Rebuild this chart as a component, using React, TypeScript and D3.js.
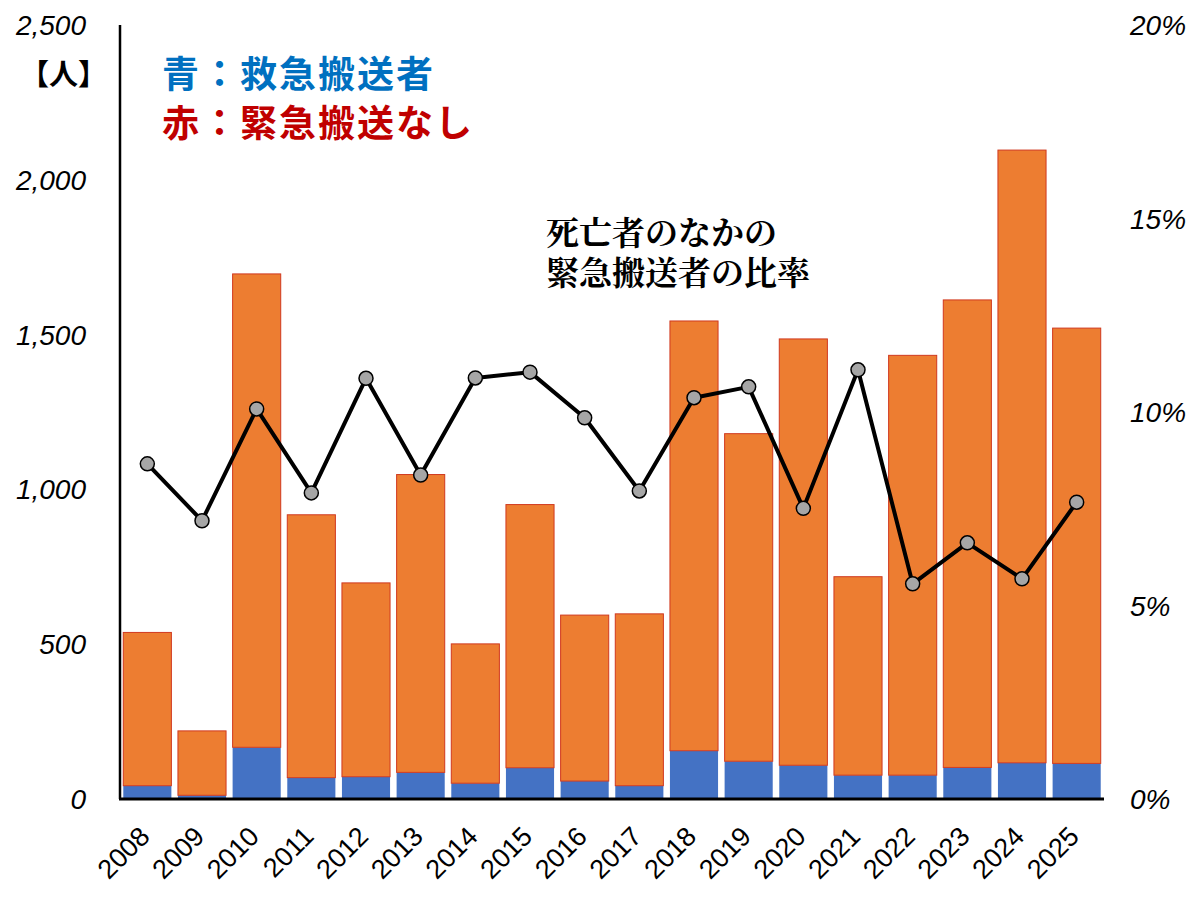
import { useEffect, useRef } from "react";
import * as d3 from "d3";

const years = [
  "2008", "2009", "2010", "2011", "2012", "2013", "2014", "2015", "2016",
  "2017", "2018", "2019", "2020", "2021", "2022", "2023", "2024", "2025",
];
// 救急搬送者 (blue)
const transported = [
  43, 12, 167, 69, 72, 86, 51, 101, 58, 43, 156, 122, 109, 77, 77, 102, 117, 115,
];
// 緊急搬送なし (orange)
const notTransported = [
  495, 208, 1529, 849, 626, 962, 450, 850, 536, 555, 1388, 1058, 1377, 641,
  1356, 1510, 1979, 1406,
];
// 死亡者のなかの緊急搬送者の比率 (%)
const ratio = [
  8.66, 7.19, 10.08, 7.91, 10.87, 8.37, 10.88, 11.03, 9.85, 7.96, 10.37, 10.65,
  7.51, 11.09, 5.56, 6.62, 5.69, 7.67,
];
const leftTicks = [0, 500, 1000, 1500, 2000, 2500];
const rightTicks = [0, 5, 10, 15, 20];

interface Row {
  year: string;
  transported: number;
  notTransported: number;
}

export default function App() {
  const ref = useRef<SVGSVGElement | null>(null);

  useEffect(() => {
    const svg = d3.select(ref.current);
    svg.selectAll("*").remove();

    const width = 1200;
    const height = 900;
    const left = 120;
    const right = 1104;
    const top = 25;
    const bottom = 799;

    const rows: Row[] = years.map((year, i) => ({
      year,
      transported: transported[i],
      notTransported: notTransported[i],
    }));

    const x = d3
      .scaleBand()
      .domain(years)
      .range([left, right])
      .paddingInner(0.12)
      .paddingOuter(0.06);
    const y = d3.scaleLinear().domain([0, 2500]).range([bottom, top]);
    const yRight = d3.scaleLinear().domain([0, 20]).range([bottom, top]);

    svg.attr("width", width).attr("height", height);

    const stack = d3
      .stack<Row>()
      .keys(["transported", "notTransported"]);
    const series = stack(rows);
    const fills = ["#4472C4", "#ED7D31"];

    series.forEach((s, si) => {
      svg
        .append("g")
        .selectAll("rect")
        .data(s)
        .enter()
        .append("rect")
        .attr("x", (d) => x(d.data.year)!)
        .attr("width", x.bandwidth())
        .attr("y", (d) => y(d[1]))
        .attr("height", (d) => y(d[0]) - y(d[1]))
        .attr("fill", fills[si])
        .attr("stroke", si === 1 ? "#D0391F" : "none")
        .attr("stroke-width", 1);
    });

    // axes lines
    svg
      .append("line")
      .attr("x1", left)
      .attr("x2", left)
      .attr("y1", top)
      .attr("y2", bottom)
      .attr("stroke", "#000")
      .attr("stroke-width", 2.5);
    svg
      .append("line")
      .attr("x1", left - 1)
      .attr("x2", right)
      .attr("y1", bottom)
      .attr("y2", bottom)
      .attr("stroke", "#000")
      .attr("stroke-width", 3);

    const tickFont = "'Liberation Sans', Arial, sans-serif";

    svg
      .append("g")
      .selectAll("text")
      .data(leftTicks)
      .enter()
      .append("text")
      .attr("x", 86)
      .attr("y", (d) => y(d))
      .attr("dy", "0.36em")
      .attr("text-anchor", "end")
      .attr("font-family", tickFont)
      .attr("font-style", "italic")
      .attr("font-size", 28)
      .text((d) => d3.format(",")(d));

    svg
      .append("g")
      .selectAll("text")
      .data(rightTicks)
      .enter()
      .append("text")
      .attr("x", 1130)
      .attr("y", (d) => yRight(d))
      .attr("dy", "0.36em")
      .attr("text-anchor", "start")
      .attr("font-family", tickFont)
      .attr("font-style", "italic")
      .attr("font-size", 28)
      .text((d) => `${d}%`);

    svg
      .append("g")
      .selectAll("text")
      .data(years)
      .enter()
      .append("text")
      .attr("transform", (d) => {
        const cx = x(d)! + x.bandwidth() / 2 + 4;
        return `translate(${cx},838) rotate(-45)`;
      })
      .attr("text-anchor", "end")
      .attr("font-family", tickFont)
      .attr("font-size", 27)
      .text((d) => d);

    // ratio line
    const line = d3
      .line<number>()
      .x((_, i) => x(years[i])! + x.bandwidth() / 2)
      .y((d) => yRight(d));

    svg
      .append("path")
      .datum(ratio)
      .attr("d", line)
      .attr("fill", "none")
      .attr("stroke", "#000")
      .attr("stroke-width", 4)
      .attr("stroke-linejoin", "round");

    svg
      .append("g")
      .selectAll("circle")
      .data(ratio)
      .enter()
      .append("circle")
      .attr("cx", (_, i) => x(years[i])! + x.bandwidth() / 2)
      .attr("cy", (d) => yRight(d))
      .attr("r", 7)
      .attr("fill", "#A6A6A6")
      .attr("stroke", "#000")
      .attr("stroke-width", 1.5);

    const cjk = "'Noto Sans CJK JP', sans-serif";

    svg
      .append("text")
      .attr("x", 20)
      .attr("y", 85)
      .attr("font-family", cjk)
      .attr("font-weight", "bold")
      .attr("font-size", 29)
      .text("【人】");

    svg
      .append("text")
      .attr("x", 162)
      .attr("y", 88)
      .attr("font-family", cjk)
      .attr("font-weight", "bold")
      .attr("font-size", 37)
      .attr("letter-spacing", 2)
      .attr("fill", "#0070C0")
      .text("青：救急搬送者");

    svg
      .append("text")
      .attr("x", 162)
      .attr("y", 137)
      .attr("font-family", cjk)
      .attr("font-weight", "bold")
      .attr("font-size", 37)
      .attr("letter-spacing", 2)
      .attr("fill", "#C00000")
      .text("赤：緊急搬送なし");

    const note = svg
      .append("text")
      .attr("font-family", "'Noto Serif CJK JP', 'Noto Sans CJK JP', serif")
      .attr("font-weight", "bold")
      .attr("font-size", 33)
      .attr("fill", "#000");
    note.append("tspan").attr("x", 546).attr("y", 245).text("死亡者のなかの");
    note.append("tspan").attr("x", 546).attr("y", 285).text("緊急搬送者の比率");
  }, []);

  return (
    <svg
      ref={ref}
      style={{ position: "absolute", left: 0, top: 0, background: "#fff" }}
    ></svg>
  );
}
